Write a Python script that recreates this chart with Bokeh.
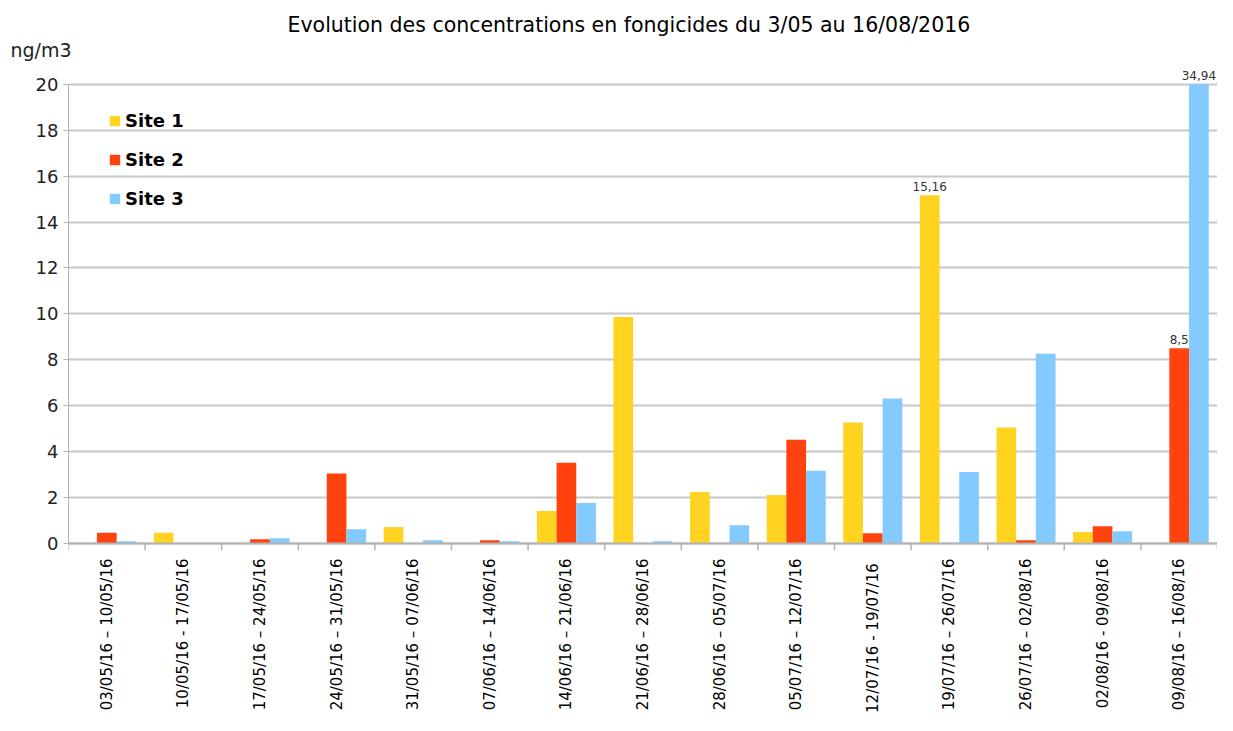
from bokeh.plotting import figure
from bokeh.models import (FactorRange, Range1d, Label, Legend, LegendItem,
                          ColumnDataSource, FixedTicker, Span, Title)
from bokeh.transform import dodge
from bokeh.embed import file_html
from bokeh.resources import INLINE
from math import pi

categories = [
    "03/05/16 \u2013 10/05/16", "10/05/16 - 17/05/16", "17/05/16 \u2013 24/05/16",
    "24/05/16 \u2013 31/05/16", "31/05/16 \u2013 07/06/16", "07/06/16 \u2013 14/06/16",
    "14/06/16 \u2013 21/06/16", "21/06/16 \u2013 28/06/16", "28/06/16 \u2013 05/07/16",
    "05/07/16 \u2013 12/07/16", "12/07/16 -  19/07/16", "19/07/16 \u2013 26/07/16",
    "26/07/16 \u2013 02/08/16", "02/08/16 - 09/08/16", "09/08/16 \u2013 16/08/16",
]
site1 = [0, 0.47, 0, 0, 0.72, 0, 1.42, 9.87, 2.25, 2.12, 5.27, 15.16, 5.05, 0.5, 0]
site2 = [0.47, 0, 0.19, 3.05, 0, 0.15, 3.52, 0, 0, 4.52, 0.45, 0, 0.15, 0.76, 8.5]
site3 = [0.1, 0, 0.23, 0.63, 0.15, 0.1, 1.77, 0.1, 0.8, 3.17, 6.32, 3.12, 8.27, 0.54, 34.94]
series_names = ["Site 1", "Site 2", "Site 3"]
colors = ["#FFD320", "#FF420E", "#83CAFF"]
y_ticks = [0, 2, 4, 6, 8, 10, 12, 14, 16, 18, 20]
# labelled bars: (series index, category index)
labelled = [(0, 11), (1, 14), (2, 14)]

FONT = "DejaVu Sans"
Y_MAX = 20

all_series = [site1, site2, site3]
keys = ["s1", "s2", "s3"]
data = dict(cat=categories)
for k, s in zip(keys, all_series):
    data[k] = [min(v, Y_MAX) for v in s]   # bars are cut at the axis top
src = ColumnDataSource(data)

p = figure(x_range=FactorRange(*categories, range_padding=0, factor_padding=0),
           y_range=Range1d(-0.3, 20.9), title=None,
           width=1217, height=715, output_backend="svg", toolbar_location=None,
           min_border_left=68, min_border_right=0, min_border_top=63,
           min_border_bottom=164)

p.add_layout(Title(text="ng/m3", align="left", offset=-58, text_font=FONT,
                   text_font_size="19px", text_font_style="normal",
                   text_color="#222222", standoff=5), "above")
p.add_layout(Title(text="Evolution des concentrations en fongicides du 3/05 au 16/08/2016",
                   align="left", offset=219, text_font=FONT,
                   text_font_size="20.5px", text_font_style="normal",
                   text_color="#000000", standoff=-4), "above")

bw = 0.257
offsets = [-bw, 0, bw]
renderers = []
for k, off, c in zip(keys, offsets, colors):
    r = p.vbar(x=dodge("cat", off, range=p.x_range), top=k, width=bw, source=src,
               fill_color=c, line_color=None)
    renderers.append(r)

legend = Legend(items=[LegendItem(label=n, renderers=[r]) for n, r in zip(series_names, renderers)],
                location=(40, 341))
legend.border_line_color = None
legend.background_fill_alpha = 0
legend.label_text_font = FONT
legend.label_text_font_size = "18px"
legend.label_text_font_style = "bold"
legend.label_text_color = "#000000"
legend.label_height = 20
legend.glyph_height = 13
legend.glyph_width = 13
legend.spacing = 18
legend.padding = 0
legend.margin = 0
legend.label_standoff = 4
p.add_layout(legend)

# value labels
for si, ci in labelled:
    v = all_series[si][ci]
    txt = ("%g" % v).replace(".", ",")
    p.add_layout(Label(x=ci + 0.5 + offsets[si], y=min(v, Y_MAX), text=txt,
                       text_align="center", text_baseline="bottom", y_offset=4,
                       text_font=FONT, text_font_size="12px", text_color="#333333"))

# baseline and category boundary ticks
p.add_layout(Span(location=0, dimension="width", line_color="#b3b3b3", line_width=2))
nb = len(categories) + 1
p.segment(x0=list(range(nb)), y0=[0] * nb, x1=list(range(nb)), y1=[-0.3] * nb,
          line_color="#b3b3b3", line_width=1.5)

p.xgrid.grid_line_color = None
p.ygrid.grid_line_color = "#c8c8c8"
p.ygrid.grid_line_width = 2
p.outline_line_color = None

p.yaxis.ticker = FixedTicker(ticks=y_ticks)
p.yaxis.bounds = (0, Y_MAX)
p.yaxis.axis_line_color = "#b3b3b3"
p.yaxis.major_tick_line_color = "#b3b3b3"
p.yaxis.major_tick_in = 0
p.yaxis.major_tick_out = 5
p.yaxis.minor_tick_line_color = None
p.yaxis.major_label_text_font = FONT
p.yaxis.major_label_text_font_size = "18px"
p.yaxis.major_label_text_color = "#222222"

p.xaxis.axis_line_color = None
p.xaxis.major_tick_line_color = None
p.xaxis.major_label_orientation = pi / 2
p.xaxis.major_label_text_font = FONT
p.xaxis.major_label_text_font_size = "15px"
p.xaxis.major_label_text_color = "#000000"
p.xaxis.major_label_standoff = 2

open("out.html", "w").write(file_html(p, INLINE))
